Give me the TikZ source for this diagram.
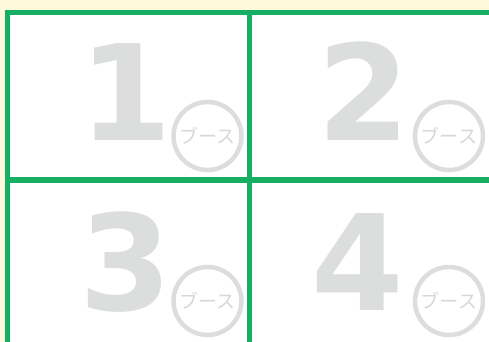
\documentclass[tikz,border=0pt]{standalone}
\usepackage{fontspec}
\newfontfamily\digitfont{DejaVu Sans}
\newfontfamily\cjkfont{Noto Sans CJK JP}
\definecolor{gridgreen}{RGB}{22,174,99}
\definecolor{paleyellow}{RGB}{255,249,220}
\definecolor{lightgrey}{RGB}{220,221,221}
\definecolor{textgrey}{RGB}{214,215,215}
\tikzset{
  grid line/.style={draw=gridgreen, line width=5.5pt},
  bignum/.style={anchor=base, inner sep=0pt, text=lightgrey, font=\digitfont\bfseries\fontsize{133}{133}\selectfont},
  booth/.style={circle, draw=lightgrey, line width=4.5pt, minimum size=68pt, inner sep=0pt,
    text=textgrey, font=\cjkfont\fontsize{19}{19}\selectfont}
}
\begin{document}
\begin{tikzpicture}[x=1pt,y=-1pt]
\useasboundingbox (0,0) rectangle (489,342);
\fill[paleyellow] (0,0) rectangle (489,342);
\fill[white] (5,10) rectangle (489,342);
% digits
\node[bignum] (n1) at (126,140) {1};
\node[bignum] (n2) at (364,140) {2};
\node[bignum] (n3) at (126,310) {3};
\node[bignum] (n4) at (358,310) {4};
% booth circles
\node[booth] (b1) at (207.5,136) {ブース};
\node[booth] (b2) at (449,136) {ブース};
\node[booth] (b3) at (207.5,301) {ブース};
\node[booth] (b4) at (449,301) {ブース};
% grid
\coordinate (tl) at (5,12.5);
\coordinate (tr) at (489,12.5);
\coordinate (ml) at (5,180);
\coordinate (mr) at (489,180);
\coordinate (lt) at (7.5,10);
\coordinate (lb) at (7.5,342);
\coordinate (ct) at (249.5,10);
\coordinate (cb) at (249.5,342);
\draw[grid line] (tl) -- (tr);
\draw[grid line] (ml) -- (mr);
\draw[grid line] (lt) -- (lb);
\draw[grid line] (ct) -- (cb);
\end{tikzpicture}
\end{document}
